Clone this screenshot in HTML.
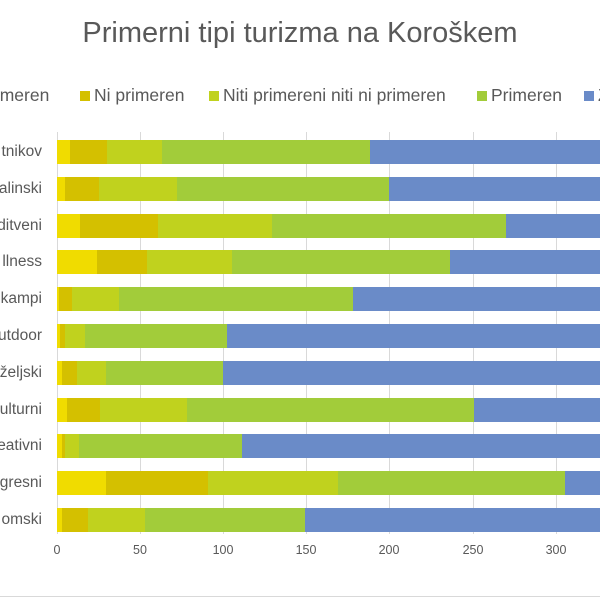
<!DOCTYPE html>
<html><head><style>
body{margin:0;width:600px;height:600px;background:#fff;overflow:hidden;position:relative;font-family:"Liberation Sans",sans-serif;color:#595959}
.t{position:absolute;top:17px;left:0;width:600px;text-align:center;font-size:29px}
.lg{position:absolute;top:85px;font-size:17.5px;white-space:nowrap}
.sw{display:inline-block;width:10px;height:10px;margin-right:4px}
.lab{position:absolute;right:558px;font-size:15.5px;text-align:right;white-space:nowrap}
.g{position:absolute;top:132px;width:1px;height:402px;background:#d9d9d9}
.b{position:absolute;height:24px}
.tk{position:absolute;top:543px;font-size:12.5px;width:40px;text-align:center}
</style></head><body>
<div class="t">Primerni tipi turizma na Koroškem</div>
<div class="lg" style="left:-10px">rimeren</div>
<div class="lg" style="left:80px"><span class="sw" style="background:#d4c000"></span>Ni primeren</div>
<div class="lg" style="left:209px"><span class="sw" style="background:#c0d21e"></span>Niti primereni niti ni primeren</div>
<div class="lg" style="left:477px"><span class="sw" style="background:#a2cc3a"></span>Primeren</div>
<div class="lg" style="left:584px"><span class="sw" style="background:#6a8bc8"></span>Z</div>
<div class="g" style="left:57px"></div><div class="g" style="left:140px"></div><div class="g" style="left:223px"></div><div class="g" style="left:306px"></div><div class="g" style="left:389px"></div><div class="g" style="left:473px"></div><div class="g" style="left:556px"></div>
<div id="bars"></div>
<div class="tk" style="left:37px">0</div><div class="tk" style="left:120px">50</div><div class="tk" style="left:203px">100</div><div class="tk" style="left:286px">150</div><div class="tk" style="left:369px">200</div><div class="tk" style="left:453px">250</div><div class="tk" style="left:536px">300</div>
<div style="position:absolute;left:0;top:596px;width:600px;height:1px;background:#d9d9d9"></div>
<script>
var rows=[["tnikov",[70,107,162,370]],["alinski",[65,99,177,389]],["ditveni",[80,158,272,506]],["llness",[97,147,232,450]],["kampi",[59,72,119,353]],["utdoor",[60,65,85,227]],["željski",[62,77,106,223]],["ulturni",[67,100,187,474]],["eativni",[62,65,79,242]],["gresni",[106,208,338,565]],["omski",[62,88,145,305]]];
var c=["#f0dc00","#d4c000","#c0d21e","#a2cc3a","#6a8bc8"],h="";
rows.forEach(function(r,i){var y=140+i*36.8,p=[57].concat(r[1],[600]);
h+='<div class="lab" style="top:'+(y+3)+'px">'+r[0]+'</div>';
for(var k=0;k<5;k++)h+='<div class="b" style="top:'+y+'px;left:'+p[k]+'px;width:'+(p[k+1]-p[k])+'px;background:'+c[k]+'"></div>';});
document.getElementById("bars").innerHTML=h;
</script>
</body></html>
